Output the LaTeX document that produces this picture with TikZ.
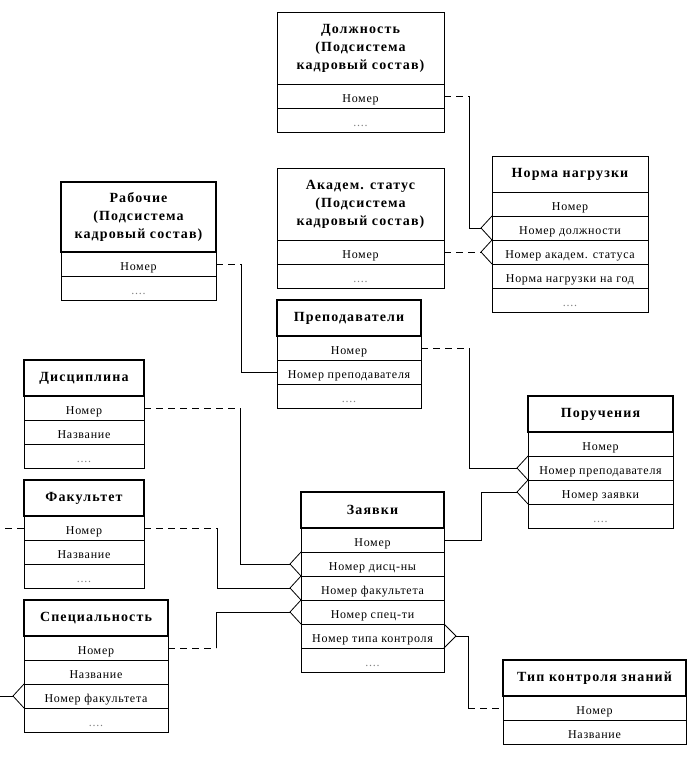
\documentclass[tikz,border=0pt]{standalone}
\usepackage{fontspec}
\setmainfont{Liberation Serif}
\newfontfamily\rowfont[LetterSpace=6]{Liberation Serif}
\newfontfamily\ttlfont[LetterSpace=8]{Liberation Serif}
\usetikzlibrary{calc}
\tikzset{
 cell/.style={draw, line width=0.8pt, minimum height=24pt, inner sep=0pt, outer sep=0pt, text height=12pt, text depth=0pt, anchor=north west, font=\rowfont\fontsize{12}{14}\selectfont},
 ttl/.style={draw, anchor=north west, inner sep=0pt, outer sep=0pt, align=center, font=\ttlfont\bfseries\fontsize{14}{18}\selectfont},
 thickbox/.style={line width=2.6pt},
 thinbox/.style={line width=0.8pt},
 fk/.style={dash pattern=on 7pt off 5pt, line width=0.8pt},
 rel/.style={line width=0.8pt},
}
\newcommand\dts{\textcolor{gray}{....}}
% #1 name, #2 left, #3 top, #4 width, #5 title height, #6 title style, #7 title, #8 rows
\newcommand\ertab[8]{%
 \foreach \r [count=\i] in {#8}{\node[cell, minimum width=#4pt] (#1-\i) at (#2,{#3+#5+(\i-1)*24}) {\r};}
 \node[ttl,#6,minimum width=#4pt,minimum height=#5pt] (#1-t) at (#2,#3) {#7};
}
\newcommand\crowL[1]{\draw[rel] ($(#1.west)+(-11,0)$) -- (#1.north west) ($(#1.west)+(-11,0)$) -- (#1.south west);}
\newcommand\crowR[1]{\draw[rel] ($(#1.east)+(12,0)$) -- (#1.north east) ($(#1.east)+(12,0)$) -- (#1.south east);}
\begin{document}
\begin{tikzpicture}[x=1pt,y=-1pt]
\useasboundingbox (0,0) rectangle (697,769);
\fill[white] (0,0) rectangle (697,769);

\ertab{dol}{277}{12}{167}{72}{thinbox}{Должность\\(Подсистема\\кадровый состав)}{Номер,\dts}
\ertab{ak}{277}{168}{167}{72}{thinbox}{Академ. статус\\(Подсистема\\кадровый состав)}{Номер,\dts}
\ertab{norm}{492}{156}{156}{36}{thinbox}{Норма нагрузки}{Номер,Номер должности,Номер академ. статуса,Норма нагрузки на год,\dts}
\ertab{rab}{61}{182}{155}{70}{thickbox}{Рабочие\\(Подсистема\\кадровый состав)}{Номер,\dts}
\ertab{pre}{277}{300}{144}{36}{thickbox}{Преподаватели}{Номер,Номер преподавателя,\dts}
\ertab{por}{528}{396}{145}{36}{thickbox}{Поручения}{Номер,Номер преподавателя,Номер заявки,\dts}
\ertab{zay}{301}{492}{143}{36}{thickbox}{Заявки}{Номер,Номер дисц-ны,Номер факультета,Номер спец-ти,Номер типа контроля,\dts}
\ertab{dis}{24}{360}{120}{36}{thickbox}{Дисциплина}{Номер,Название,\dts}
\ertab{fak}{24}{480}{120}{36}{thickbox}{Факультет}{Номер,Название,\dts}
\ertab{spe}{24}{600}{144}{36}{thickbox}{Специальность}{Номер,Название,Номер факультета,\dts}
\ertab{tip}{503}{660}{183}{36}{thickbox}{Тип контроля знаний}{Номер,Название}

% turning points
\coordinate (c1) at (469,96);
\coordinate (c2) at (241,264);
\coordinate (c3) at (469,348);
\coordinate (c4) at (481,540);
\coordinate (c5) at (240,408);
\coordinate (c6) at (217,528);
\coordinate (c7) at (216,648);
\coordinate (c8) at (468,636);
\coordinate (c9) at (468,708);
\coordinate (e1) at (0,528);
\coordinate (e2) at (0,696);

% Должность -> Норма нагрузки
\draw[fk] (dol-1.east) -- (c1);
\draw[rel] (c1) |- ($(norm-2.west)+(-11,0)$);
\crowL{norm-2}
% Академ. статус -> Норма нагрузки
\draw[fk] (ak-1.east) -- ($(norm-3.west)+(-11,0)$);
\crowL{norm-3}
% Рабочие -> Преподаватели
\draw[fk] (rab-1.east) -- (c2);
\draw[rel] (c2) |- (pre-2.west);
% Преподаватели -> Поручения
\draw[fk] (pre-1.east) -- (c3);
\draw[rel] (c3) |- ($(por-2.west)+(-11,0)$);
\crowL{por-2}
% Заявки -> Поручения
\draw[rel] (zay-1.east) -- (c4) |- ($(por-3.west)+(-11,0)$);
\crowL{por-3}
% Дисциплина -> Заявки
\draw[fk] (dis-1.east) -- (c5);
\draw[rel] (c5) |- ($(zay-2.west)+(-11,0)$);
\crowL{zay-2}
% Факультет -> Заявки
\draw[fk] (fak-1.east) -- (c6);
\draw[rel] (c6) |- ($(zay-3.west)+(-11,0)$);
\crowL{zay-3}
\draw[fk] (fak-1.west) -- (e1);
% Специальность -> Заявки
\draw[fk] (spe-1.east) -- (c7);
\draw[rel] (c7) |- ($(zay-4.west)+(-11,0)$);
\crowL{zay-4}
% Специальность (Номер факультета)
\draw[rel] (e2) -- ($(spe-3.west)+(-11,0)$);
\crowL{spe-3}
% Тип контроля -> Заявки
\draw[rel] ($(zay-5.east)+(12,0)$) -- (c8) -- (c9);
\draw[fk] (c9) -- (tip-1.west);
\crowR{zay-5}
\end{tikzpicture}
\end{document}
